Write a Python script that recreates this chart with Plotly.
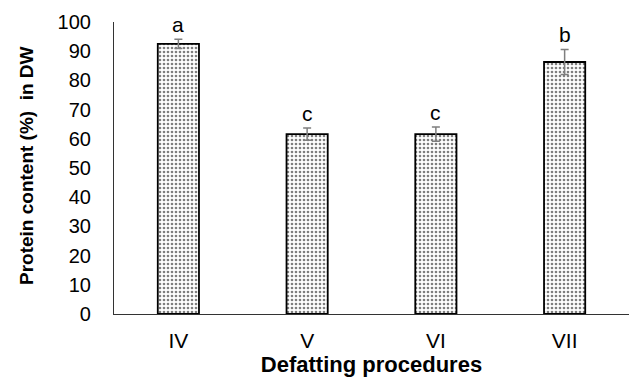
import plotly.graph_objects as go

categories = ["IV", "V", "VI", "VII"]
protein = [92.5, 61.6, 61.6, 86.3]
errors = [1.6, 2.1, 2.4, 4.3]
letters = ["a", "c", "c", "b"]

fig = go.Figure()
fig.add_trace(go.Bar(
    x=categories, y=protein,
    marker=dict(color="white",
                line=dict(color="black", width=1.8),
                pattern=dict(shape=".", fgcolor="black", bgcolor="white", size=4, solidity=0.35)),
    error_y=dict(type="data", array=errors, visible=True, color="#7f7f7f", thickness=1.5, width=4),
    showlegend=False,
))

for c, v, e, t in zip(categories, protein, errors, letters):
    fig.add_annotation(x=c, y=v + e, text=t, showarrow=False, yanchor="bottom", yshift=1,
                       font=dict(size=21, color="black", family="Liberation Sans, Arial"))

fig.add_annotation(xref="paper", yref="paper", x=-0.171, y=0.51, xanchor="center", yanchor="middle",
                   text="<b>Protein content (%)  in DW</b>", textangle=-90, showarrow=False,
                   font=dict(size=19, color="black", family="Liberation Sans, Arial"))

fig.update_layout(
    width=629, height=383,
    margin=dict(l=114, r=0, t=22, b=69),
    paper_bgcolor="white", plot_bgcolor="white",
    bargap=0.68,
    font=dict(family="Liberation Sans, Arial", size=20, color="black"),
)
fig.update_xaxes(
    showline=True, linecolor="#333333", linewidth=1.2, ticks="",
    ticklabelstandoff=8, tickfont=dict(size=21),
    title=dict(text="<b>Defatting procedures</b>", font=dict(size=22), standoff=4),
)
fig.update_yaxes(
    range=[0, 100], dtick=10, showline=True, linecolor="#333333", linewidth=1.2,
    showgrid=False, zeroline=False, ticks="", ticklabelstandoff=18, tickfont=dict(size=20),
)

fig.write_html("out.html")
